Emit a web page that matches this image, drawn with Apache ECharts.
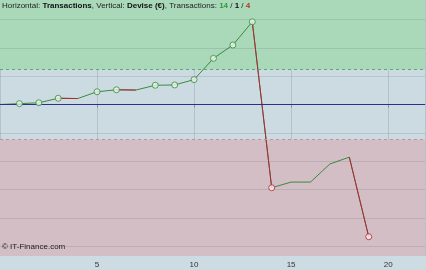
<!DOCTYPE html>
<html><head><meta charset="utf-8">
<script src="https://cdn.jsdelivr.net/npm/echarts@6/dist/echarts.min.js"></script>
<style>html,body{margin:0;padding:0;background:#cddce2;}#c{width:426px;height:270px;}</style>
</head><body><div id="c"></div>
<script>
// Equity after each transaction (transaction 0 = start)
const transactions = [0,1,2,3,4,5,6,7,8,9,10,11,12,13,14,15,16,17,18,19];
const equity = [0, 0.03, 0.06, 0.22, 0.21, 0.45, 0.52, 0.51, 0.68, 0.69, 0.88, 1.63, 2.10, 2.92, -2.94, -2.74, -2.74, -2.10, -1.86, -4.67];
// Outcome of transactions 1..19 : W = win, N = neutral, L = loss
const outcomes = ['W','W','W','L','W','W','L','W','W','W','W','W','W','L','W','N','W','W','L'];
const xTickLabels = ['5','10','15','20'];
const gridValues = [-5,-4,-3,-2,-1,0,1,2,3];
const upperThreshold = 1.24;
const lowerThreshold = -1.24;
const yMin = -5.35, yMax = 3.69;

const GREEN = '#3b8a3e', RED = '#b02838';
const FONT = 'Liberation Sans, Arial';

const wins = outcomes.filter(o => o === 'W').length;
const neutral = outcomes.filter(o => o === 'N').length;
const losses = outcomes.filter(o => o === 'L').length;

const lineData = transactions.map((t, i) => [t, equity[i]]);
const redData = transactions.map((t, i) => {
  const lossBefore = i > 0 && outcomes[i - 1] === 'L';
  const lossAfter = i < outcomes.length && outcomes[i] === 'L';
  return (lossBefore || lossAfter) ? [t, equity[i]] : [t, null];
});
// new equity highs / new drawdown lows
const highs = [], lows = [];
let hi = equity[0], lo = equity[0];
for (let i = 1; i < equity.length; i++) {
  if (equity[i] > hi) { hi = equity[i]; highs.push([transactions[i], equity[i]]); }
  if (equity[i] < lo) { lo = equity[i]; lows.push([transactions[i], equity[i]]); }
}

const chart = echarts.init(document.getElementById('c'), null, {renderer: 'canvas'});
chart.setOption({
  animation: false,
  backgroundColor: '#cddce2',
  title: {
    left: 2, top: 2, padding: 0,
    text: 'Horizontal: {b|Transactions}, Vertical: {b|Devise (€)}, Transactions: {g|' + wins + '} / {b|' + neutral + '} / {r|' + losses + '}',
    textStyle: {
      fontFamily: FONT, fontSize: 8, fontWeight: 'normal', color: '#222',
      rich: {
        b: {fontFamily: FONT, fontSize: 8, fontWeight: 'bold', color: '#111'},
        g: {fontFamily: FONT, fontSize: 8, fontWeight: 'bold', color: '#2f9a33'},
        r: {fontFamily: FONT, fontSize: 8, fontWeight: 'bold', color: '#b03a20'}
      }
    }
  },
  graphic: [{
    type: 'text', left: 2, top: 243, z: 100,
    style: {text: '© IT-Finance.com', fontFamily: FONT, fontSize: 8, fill: '#222'}
  }],
  grid: {left: 0, right: 1, top: 0, bottom: 14, show: true, backgroundColor: '#cbdbe1', borderWidth: 0},
  xAxis: {
    type: 'value', min: 0, max: 21.9, interval: 5,
    axisLine: {show: true, lineStyle: {color: '#8a9296'}},
    axisTick: {show: true, length: 3, lineStyle: {color: '#8a9296'}},
    axisLabel: {
      fontFamily: FONT, fontSize: 8, color: '#333', margin: 5,
      showMinLabel: false, showMaxLabel: false,
      formatter: v => xTickLabels.includes(String(v)) ? String(v) : ''
    },
    splitLine: {show: true, lineStyle: {color: 'rgba(60,70,80,0.16)', width: 1}}
  },
  yAxis: {
    type: 'value', min: yMin, max: yMax,
    axisLine: {show: false}, axisTick: {show: false}, axisLabel: {show: false}, splitLine: {show: false}
  },
  series: [
    {
      type: 'line', data: lineData, symbol: 'none', silent: true, z: 1,
      lineStyle: {opacity: 0},
      markArea: {
        silent: true,
        data: [
          [{yAxis: upperThreshold, itemStyle: {color: '#a9d9b9'}}, {yAxis: yMax}],
          [{yAxis: yMin, itemStyle: {color: '#d3bec5'}}, {yAxis: lowerThreshold}]
        ]
      },
      markLine: {
        silent: true, symbol: 'none', label: {show: false},
        data: gridValues.map(v => ({yAxis: v, lineStyle: {color: 'rgba(60,70,80,0.14)', type: 'solid', width: 1}}))
          .concat([
            {yAxis: upperThreshold, lineStyle: {color: '#5ea873', type: [3, 3], width: 1}},
            {yAxis: lowerThreshold, lineStyle: {color: '#c98c9a', type: [3, 3], width: 1}},
            {yAxis: 0, lineStyle: {color: '#2c2f8c', type: 'solid', width: 1}}
          ])
      }
    },
    {
      type: 'line', data: lineData, symbol: 'none', z: 3,
      lineStyle: {color: GREEN, width: 1}
    },
    {
      type: 'line', data: redData, symbol: 'none', z: 4, connectNulls: false,
      lineStyle: {color: RED, width: 1}
    },
    {
      type: 'scatter', data: highs, symbol: 'circle', symbolSize: 6, z: 5,
      itemStyle: {color: '#e6f4e6', borderColor: GREEN, borderWidth: 1}
    },
    {
      type: 'scatter', data: lows, symbol: 'circle', symbolSize: 6, z: 5,
      itemStyle: {color: '#fbeaee', borderColor: RED, borderWidth: 1}
    }
  ]
});
</script>
</body></html>
